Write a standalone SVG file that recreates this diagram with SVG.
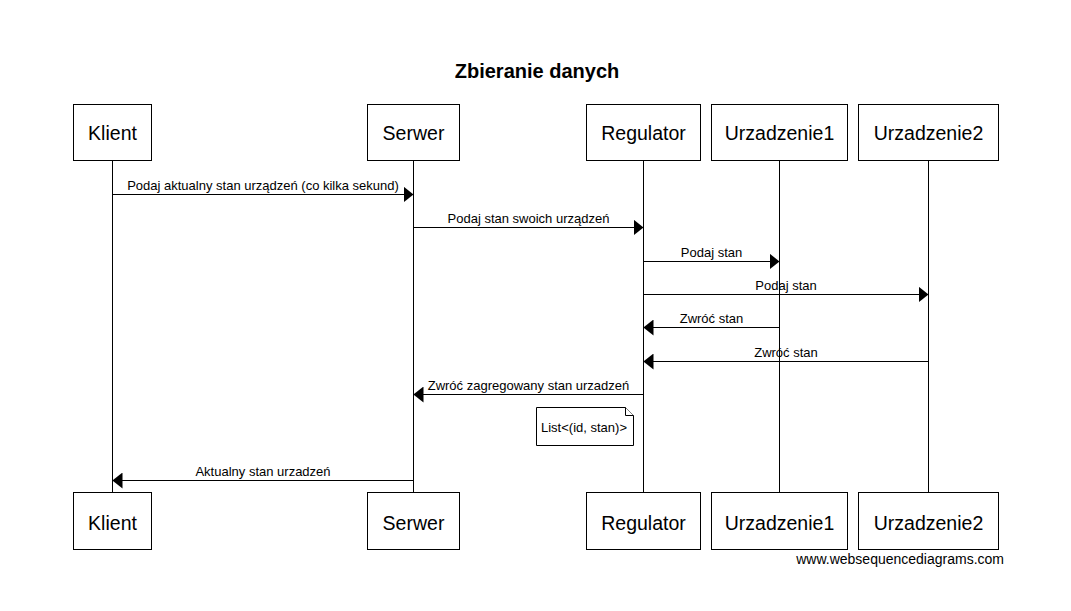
<svg xmlns="http://www.w3.org/2000/svg" width="1071" height="611" viewBox="0 0 1071 611">
<style>
  .box { fill: #fff; stroke: #000; stroke-width: 1; }
  .life { stroke: #000; stroke-width: 1; fill: none; }
  .msg { stroke: #000; stroke-width: 1; fill: none; marker-end: url(#arrow); }
  .pname { font-family: "Liberation Sans", Arial, sans-serif; font-size: 19.5px; text-anchor: middle; fill: #000; }
  .lbl { font-family: "Liberation Sans", Arial, sans-serif; font-size: 13px; text-anchor: middle; fill: #000; }
  .title { font-family: "Liberation Sans", Arial, sans-serif; font-size: 20px; font-weight: bold; text-anchor: middle; fill: #000; }
  .wm { font-family: "Liberation Sans", Arial, sans-serif; font-size: 14px; text-anchor: end; fill: #000; }
  .note { fill: #fff; stroke: #000; stroke-width: 1; }
</style>
<defs>
  <marker id="arrow" markerUnits="userSpaceOnUse" markerWidth="10" markerHeight="16" refX="10" refY="8" orient="auto" viewBox="0 0 10 16">
    <path d="M0,0 L10,8 L0,16 Z" fill="#000"/>
  </marker>
</defs>
<rect width="1071" height="611" fill="#fff"/>
<text class="title" x="537" y="78">Zbieranie danych</text>

<g id="lifelines">
  <line class="life" x1="112.5" y1="160.5" x2="112.5" y2="492.5"/>
  <line class="life" x1="413.5" y1="160.5" x2="413.5" y2="492.5"/>
  <line class="life" x1="643.5" y1="160.5" x2="643.5" y2="492.5"/>
  <line class="life" x1="779.5" y1="160.5" x2="779.5" y2="492.5"/>
  <line class="life" x1="928.5" y1="160.5" x2="928.5" y2="492.5"/>
</g>

<g id="klient">
  <rect class="box" x="73.5" y="104.5" width="78" height="56"/>
  <text class="pname" x="112.5" y="140">Klient</text>
  <rect class="box" x="73.5" y="492.5" width="78" height="57"/>
  <text class="pname" x="112.5" y="530">Klient</text>
</g>
<g id="serwer">
  <rect class="box" x="367.5" y="104.5" width="92" height="56"/>
  <text class="pname" x="413.5" y="140">Serwer</text>
  <rect class="box" x="367.5" y="492.5" width="92" height="57"/>
  <text class="pname" x="413.5" y="530">Serwer</text>
</g>
<g id="regulator">
  <rect class="box" x="586.5" y="104.5" width="114" height="56"/>
  <text class="pname" x="643.5" y="140">Regulator</text>
  <rect class="box" x="586.5" y="492.5" width="114" height="57"/>
  <text class="pname" x="643.5" y="530">Regulator</text>
</g>
<g id="urzadzenie1">
  <rect class="box" x="711.5" y="104.5" width="136" height="56"/>
  <text class="pname" x="779.5" y="140">Urzadzenie1</text>
  <rect class="box" x="711.5" y="492.5" width="136" height="57"/>
  <text class="pname" x="779.5" y="530">Urzadzenie1</text>
</g>
<g id="urzadzenie2">
  <rect class="box" x="858.5" y="104.5" width="140" height="56"/>
  <text class="pname" x="928.5" y="140">Urzadzenie2</text>
  <rect class="box" x="858.5" y="492.5" width="140" height="57"/>
  <text class="pname" x="928.5" y="530">Urzadzenie2</text>
</g>

<g id="connectors">
  <line class="msg" x1="112.5" y1="194.5" x2="413.5" y2="194.5"/>
  <text class="lbl" x="263" y="189.5">Podaj aktualny stan urządzeń (co kilka sekund)</text>
  <line class="msg" x1="413.5" y1="227.5" x2="643.5" y2="227.5"/>
  <text class="lbl" x="528.5" y="222.5">Podaj stan swoich urządzeń</text>
  <line class="msg" x1="643.5" y1="261.5" x2="779.5" y2="261.5"/>
  <text class="lbl" x="711.5" y="256.5">Podaj stan</text>
  <line class="msg" x1="643.5" y1="294.5" x2="928.5" y2="294.5"/>
  <text class="lbl" x="786" y="289.5">Podaj stan</text>
  <line class="msg" x1="779.5" y1="327.5" x2="643.5" y2="327.5"/>
  <text class="lbl" x="711.5" y="322.5">Zwróć stan</text>
  <line class="msg" x1="928.5" y1="361.5" x2="643.5" y2="361.5"/>
  <text class="lbl" x="786" y="356.5">Zwróć stan</text>
  <line class="msg" x1="643.5" y1="394.5" x2="413.5" y2="394.5"/>
  <text class="lbl" x="528.5" y="389.5">Zwróć zagregowany stan urzadzeń</text>
  <line class="msg" x1="413.5" y1="480.5" x2="112.5" y2="480.5"/>
  <text class="lbl" x="263" y="475.5">Aktualny stan urzadzeń</text>
</g>

<g id="note">
  <path class="note" d="M536.5,407.5 L625.5,407.5 L633.5,415.5 L633.5,445.5 L536.5,445.5 Z"/>
  <path class="note" d="M625.5,407.5 L625.5,415.5 L633.5,415.5"/>
  <text class="lbl" x="541" y="432" style="text-anchor:start">List&lt;(id, stan)&gt;</text>
</g>

<text class="wm" x="1004" y="564">www.websequencediagrams.com</text>
</svg>
